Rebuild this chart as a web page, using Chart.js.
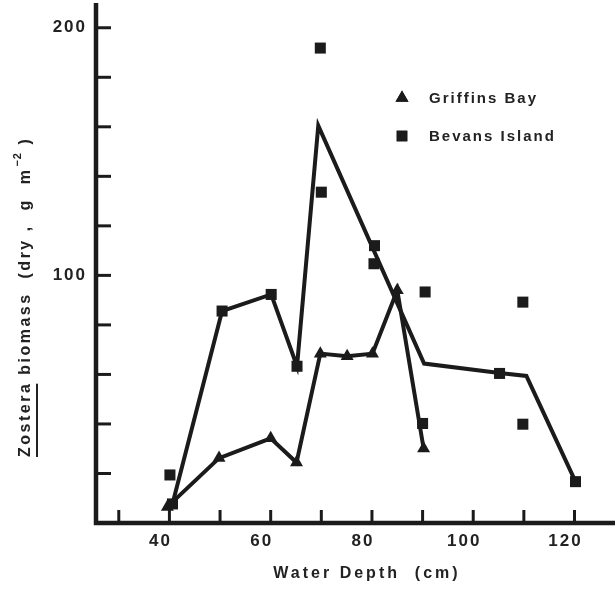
<!DOCTYPE html>
<html>
<head>
<meta charset="utf-8">
<script src="https://cdn.jsdelivr.net/npm/chart.js@4/dist/chart.umd.min.js"></script>
<style>
  html, body { margin: 0; padding: 0; background: #fff; }
  #wrap { width: 615px; height: 589px; }
</style>
</head>
<body>
<div id="wrap"><canvas id="c" width="615" height="589"></canvas></div>
<script>
// ---- data ----
const griffinsDepth   = [39.6, 49.8, 60, 65.1, 69.8, 75.1, 80.1, 85, 90.2];
const griffinsBiomass = [6.5, 26.2, 34.2, 24.4, 68.4, 67.3, 68.4, 94, 30.1];

const bevansDepth   = [40.1, 40.6, 50.4, 60.1, 65.2, 69.8, 70, 80.5, 80.4, 90.5, 90, 105.2, 109.8, 109.8, 120.2];
const bevansBiomass = [19.4, 7.7, 85.6, 92.3, 63.3, 191.8, 133.6, 112, 104.7, 93.3, 40.2, 60.4, 89.2, 39.9, 16.7];

const bevansLineDepth   = [40.6, 50.4, 60.1, 65.2, 69.4, 90.3, 105.2, 110.5, 120.2];
const bevansLineBiomass = [7.7, 85.6, 92.3, 63.3, 160.5, 64.4, 60.6, 59.4, 16.7];

const xTickValues  = [30, 40, 50, 60, 70, 80, 90, 100, 110, 120];
const xLabelValues = [40, 60, 80, 100, 120];
const yTickValues  = [20, 40, 60, 80, 100, 120, 140, 160, 180, 200];
const yLabelValues = [100, 200];

const seriesNames = ['Griffins Bay', 'Bevans Island'];
const xTitle = 'Water Depth  (cm)';
const yTitleMain = 'Zostera';
const yTitleRest = ' biomass  (dry ,  g  m';
const yTitleSup = '\u22122';
const yTitleEnd = ' )';

const INK = '#1b1b1b';
const FONT = '"Liberation Sans", Arial, sans-serif';

const pts = (xs, ys) => xs.map((x, i) => ({ x: x, y: ys[i] }));

const noPad = s => { s.paddingTop = 0; s.paddingBottom = 0; s.paddingLeft = 0; s.paddingRight = 0; };

const customDraw = {
  id: 'customDraw',
  beforeDraw(chart) {
    chart.ctx.letterSpacing = '2px';
  },
  beforeDatasetsDraw(chart) {
    const ctx = chart.ctx;
    const xs = chart.scales.x, ys = chart.scales.y;
    const ca = chart.chartArea;
    ctx.save();
    ctx.strokeStyle = INK;
    ctx.lineWidth = 3;
    ctx.lineCap = 'butt';
    xTickValues.forEach(v => {
      const px = xs.getPixelForValue(v);
      ctx.beginPath();
      ctx.moveTo(px, ca.bottom);
      ctx.lineTo(px, ca.bottom - 13);
      ctx.stroke();
    });
    yTickValues.forEach(v => {
      const py = ys.getPixelForValue(v);
      ctx.beginPath();
      ctx.moveTo(ca.left, py);
      ctx.lineTo(ca.left + 15, py);
      ctx.stroke();
    });
    ctx.lineWidth = 4.5;
    ctx.beginPath();
    ctx.moveTo(ca.left, ca.top);
    ctx.lineTo(ca.left, ca.bottom);
    ctx.lineTo(ca.right, ca.bottom);
    ctx.stroke();
    ctx.restore();
  },
  afterDraw(chart) {
    const ctx = chart.ctx;
    ctx.save();
    ctx.fillStyle = '#222';
    ctx.textBaseline = 'middle';

    // legend
    ctx.font = 'bold 15px ' + FONT;
    ctx.letterSpacing = '2px';
    ctx.textAlign = 'left';
    const legendItems = [
      { y: 98, style: 'triangle', name: seriesNames[0] },
      { y: 136, style: 'rect', name: seriesNames[1] }
    ];
    legendItems.forEach(it => {
      ctx.fillStyle = INK;
      Chart.helpers.drawPoint(ctx, { pointStyle: it.style, radius: 7.5, rotation: 0, borderWidth: 0 }, 402, it.y);
      ctx.fill();
      ctx.fillStyle = '#222';
      ctx.fillText(it.name, 429, it.y + 1);
    });

    // x title
    ctx.font = 'bold 16px ' + FONT;
    ctx.letterSpacing = '3px';
    ctx.textAlign = 'center';
    ctx.fillText(xTitle, 367, 574);

    // y title (rotated)
    ctx.translate(26, 457);
    ctx.rotate(-Math.PI / 2);
    ctx.textAlign = 'left';
    ctx.font = 'bold 16px ' + FONT;
    ctx.letterSpacing = '2.5px';
    let cx = 0;
    ctx.fillText(yTitleMain, cx, 0);
    const wMain = ctx.measureText(yTitleMain).width;
    ctx.fillRect(0, 10, wMain - 2, 2);
    cx += wMain;
    ctx.fillText(yTitleRest, cx, 0);
    cx += ctx.measureText(yTitleRest).width;
    ctx.font = 'bold 11px ' + FONT;
    ctx.letterSpacing = '1px';
    ctx.fillText(yTitleSup, cx + 1, -8);
    cx += ctx.measureText(yTitleSup).width + 2;
    ctx.font = 'bold 16px ' + FONT;
    ctx.letterSpacing = '2px';
    ctx.fillText(yTitleEnd, cx, 0);
    ctx.restore();
  }
};

new Chart(document.getElementById('c'), {
  type: 'scatter',
  data: {
    datasets: [
      {
        label: 'Bevans Island line',
        data: pts(bevansLineDepth, bevansLineBiomass),
        showLine: true, borderColor: INK, borderWidth: 4,
        pointRadius: 0, pointHoverRadius: 0, tension: 0,
        borderJoinStyle: 'miter', order: 3
      },
      {
        label: 'Griffins Bay line',
        data: pts(griffinsDepth, griffinsBiomass),
        showLine: true, borderColor: INK, borderWidth: 4,
        pointRadius: 0, pointHoverRadius: 0, tension: 0,
        borderJoinStyle: 'miter', order: 3
      },
      {
        label: seriesNames[1],
        data: pts(bevansDepth, bevansBiomass),
        pointStyle: 'rect', pointRadius: 7.8, borderWidth: 0,
        backgroundColor: INK, borderColor: INK, order: 1
      },
      {
        label: seriesNames[0],
        data: pts(griffinsDepth, griffinsBiomass),
        pointStyle: 'triangle', pointRadius: 7.5, borderWidth: 0,
        backgroundColor: INK, borderColor: INK, order: 1
      }
    ]
  },
  options: {
    responsive: false,
    devicePixelRatio: 1,
    animation: false,
    events: [],
    layout: { autoPadding: false, padding: { top: 3, right: 0, left: 0, bottom: 0 } },
    plugins: { legend: { display: false }, tooltip: { enabled: false } },
    scales: {
      x: {
        type: 'linear', min: 25.5, max: 128,
        afterBuildTicks: s => { s.ticks = xTickValues.map(v => ({ value: v })); },
        afterFit: s => { s.height = 66; noPad(s); },
        grid: { display: false, drawTicks: false },
        border: { display: false },
        ticks: {
          autoSkip: false, maxRotation: 0, padding: 8, labelOffset: -9,
          color: '#222', font: { family: FONT, size: 17, weight: 'bold' },
          callback: v => xLabelValues.includes(v) ? String(v) : ''
        }
      },
      y: {
        type: 'linear', min: 0, max: 210,
        afterBuildTicks: s => { s.ticks = yTickValues.map(v => ({ value: v })); },
        afterFit: s => { s.width = 96; noPad(s); },
        grid: { display: false, drawTicks: false },
        border: { display: false },
        ticks: {
          autoSkip: false, padding: 9,
          color: '#222', font: { family: FONT, size: 17, weight: 'bold' },
          callback: v => yLabelValues.includes(v) ? String(v) : ''
        }
      }
    }
  },
  plugins: [customDraw]
});
</script>
</body>
</html>
